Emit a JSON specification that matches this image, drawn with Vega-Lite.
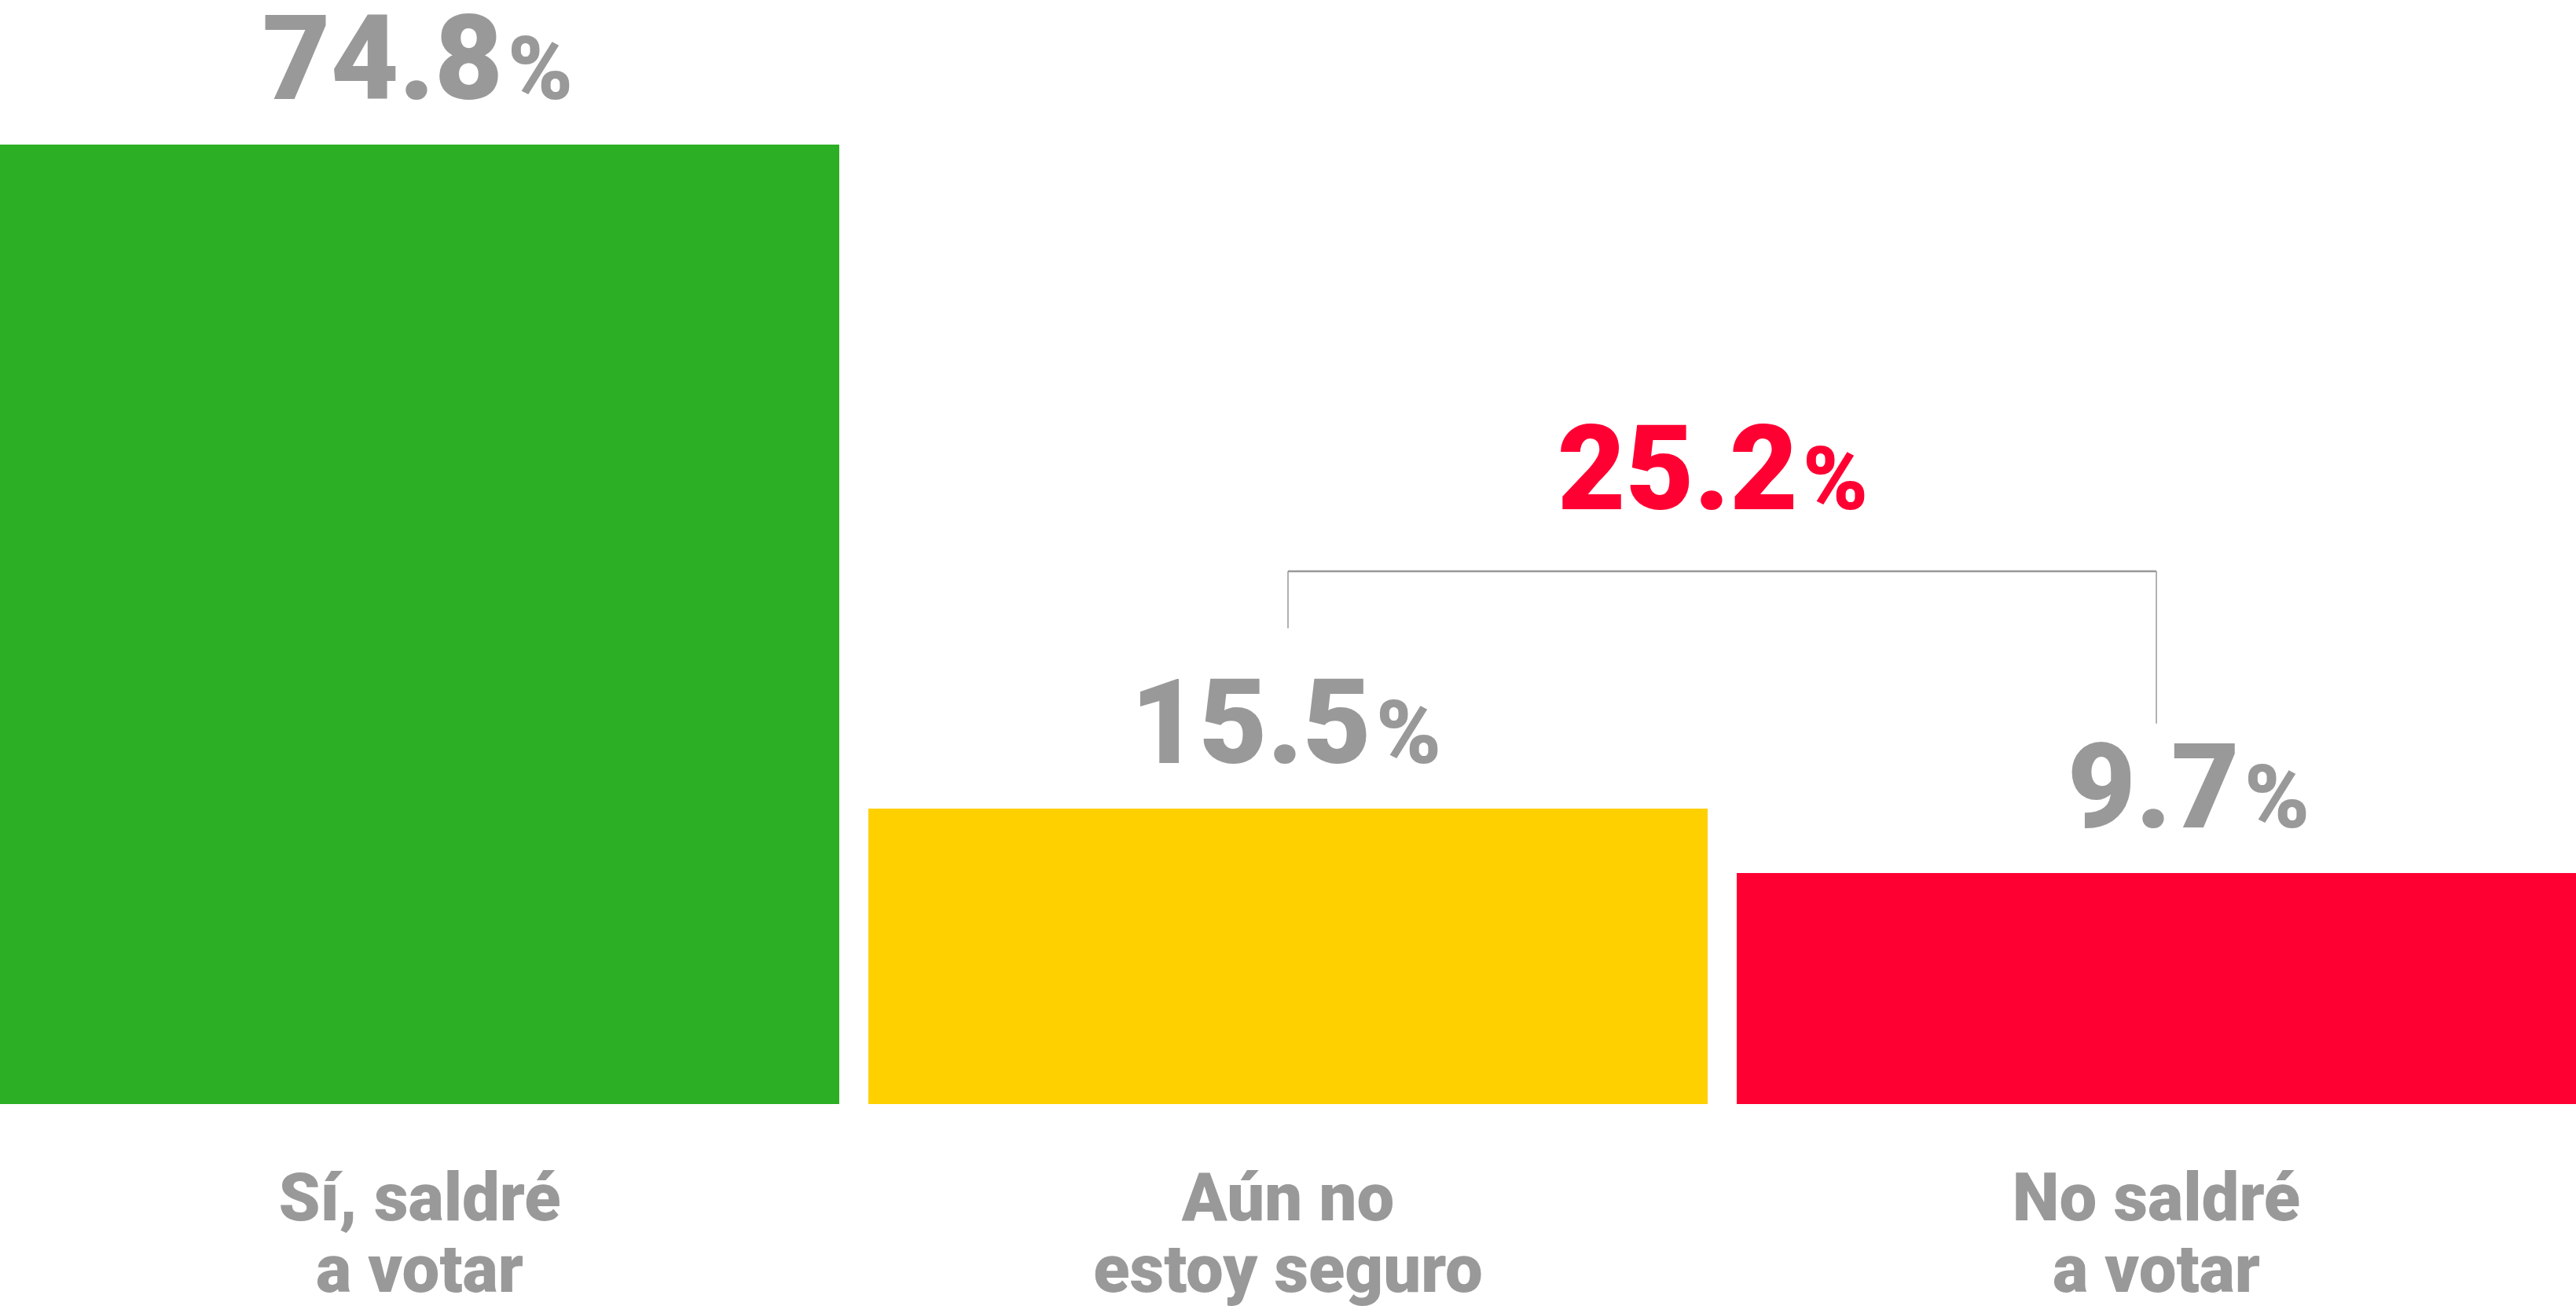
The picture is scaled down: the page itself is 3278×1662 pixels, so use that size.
{
  "$schema": "https://vega.github.io/schema/vega-lite/v6.json",
  "width": 3278,
  "height": 1662,
  "autosize": {"type": "fit", "contains": "padding"},
  "padding": 0,
  "background": "white",
  "config": {"view": {"stroke": null}},
  "datasets": {
    "bars": [
      {"cat": "Sí, saldré a votar", "label": "Sí, saldré\na votar", "value": 74.8},
      {"cat": "Aún no estoy seguro", "label": "Aún no\nestoy seguro", "value": 15.5},
      {"cat": "No saldré a votar", "label": "No saldré\na votar", "value": 9.7}
    ],
    "bracketLegs": [
      {"cat": "Aún no estoy seguro", "low": 31.6, "high": 36.7},
      {"cat": "No saldré a votar", "low": 23.1, "high": 36.7}
    ],
    "bracketTop": [
      {"from": "Aún no estoy seguro", "to": "No saldré a votar", "level": 36.7, "total": 25.2}
    ]
  },
  "layer": [
    {
      "data": {"name": "bars"},
      "mark": {"type": "bar"},
      "encoding": {
        "x": {"field": "cat", "type": "nominal", "axis": null,
              "scale": {"domain": ["Sí, saldré a votar", "Aún no estoy seguro", "No saldré a votar"], "paddingInner": 0.0335, "paddingOuter": 0}},
        "y": {"field": "value", "type": "quantitative", "axis": null,
              "scale": {"type": "linear", "domain": [0, 9.7, 15.5, 74.8], "range": [1405, 1111, 1029, 184], "zero": false, "nice": false}},
        "color": {"field": "cat", "type": "nominal", "legend": null,
                  "scale": {"domain": ["Sí, saldré a votar", "Aún no estoy seguro", "No saldré a votar"], "range": ["#2CAF24", "#FFD000", "#FF0033"]}}
      }
    },
    {
      "data": {"name": "bars"},
      "mark": {"type": "text", "align": "right", "baseline": "alphabetic", "dx": 106, "dy": -58, "font": "Roboto", "fontWeight": 900, "fontSize": 150, "color": "#999999"},
      "encoding": {
        "x": {"field": "cat", "type": "nominal", "scale": {"domain": ["Sí, saldré a votar", "Aún no estoy seguro", "No saldré a votar"]}},
        "y": {"field": "value", "type": "quantitative"},
        "text": {"field": "value", "type": "quantitative", "format": ".1f"}
      }
    },
    {
      "data": {"name": "bars"},
      "mark": {"type": "text", "text": "%", "align": "left", "baseline": "alphabetic", "dx": 112, "dy": -58, "font": "Roboto", "fontWeight": 900, "fontSize": 112, "color": "#999999"},
      "encoding": {
        "x": {"field": "cat", "type": "nominal", "scale": {"domain": ["Sí, saldré a votar", "Aún no estoy seguro", "No saldré a votar"]}},
        "y": {"field": "value", "type": "quantitative"}
      }
    },
    {
      "data": {"name": "bars"},
      "mark": {"type": "text", "align": "center", "baseline": "alphabetic", "lineBreak": "\n", "lineHeight": 91, "dy": 148, "font": "Roboto", "fontWeight": 900, "fontSize": 85, "color": "#999999"},
      "encoding": {
        "x": {"field": "cat", "type": "nominal", "scale": {"domain": ["Sí, saldré a votar", "Aún no estoy seguro", "No saldré a votar"]}},
        "y": {"datum": 0, "type": "quantitative"},
        "text": {"field": "label", "type": "nominal"}
      }
    },
    {
      "data": {"name": "bracketLegs"},
      "mark": {"type": "rule", "color": "#999999", "strokeWidth": 1.5},
      "encoding": {
        "x": {"field": "cat", "type": "nominal", "scale": {"domain": ["Sí, saldré a votar", "Aún no estoy seguro", "No saldré a votar"]}},
        "y": {"field": "low", "type": "quantitative"},
        "y2": {"field": "high"}
      }
    },
    {
      "data": {"name": "bracketTop"},
      "mark": {"type": "rule", "color": "#999999", "strokeWidth": 2.5},
      "encoding": {
        "x": {"field": "from", "type": "nominal", "scale": {"domain": ["Sí, saldré a votar", "Aún no estoy seguro", "No saldré a votar"]}},
        "x2": {"field": "to"},
        "y": {"field": "level", "type": "quantitative"}
      }
    },
    {
      "data": {"name": "bracketTop"},
      "mark": {"type": "text", "align": "right", "baseline": "alphabetic", "dx": 649, "dy": -79, "font": "Roboto", "fontWeight": 900, "fontSize": 150, "color": "#FF0033"},
      "encoding": {
        "x": {"field": "from", "type": "nominal", "scale": {"domain": ["Sí, saldré a votar", "Aún no estoy seguro", "No saldré a votar"]}},
        "y": {"field": "level", "type": "quantitative"},
        "text": {"field": "total", "type": "quantitative", "format": ".1f"}
      }
    },
    {
      "data": {"name": "bracketTop"},
      "mark": {"type": "text", "text": "%", "align": "left", "baseline": "alphabetic", "dx": 655, "dy": -79, "font": "Roboto", "fontWeight": 900, "fontSize": 112, "color": "#FF0033"},
      "encoding": {
        "x": {"field": "from", "type": "nominal", "scale": {"domain": ["Sí, saldré a votar", "Aún no estoy seguro", "No saldré a votar"]}},
        "y": {"field": "level", "type": "quantitative"}
      }
    }
  ]
}
